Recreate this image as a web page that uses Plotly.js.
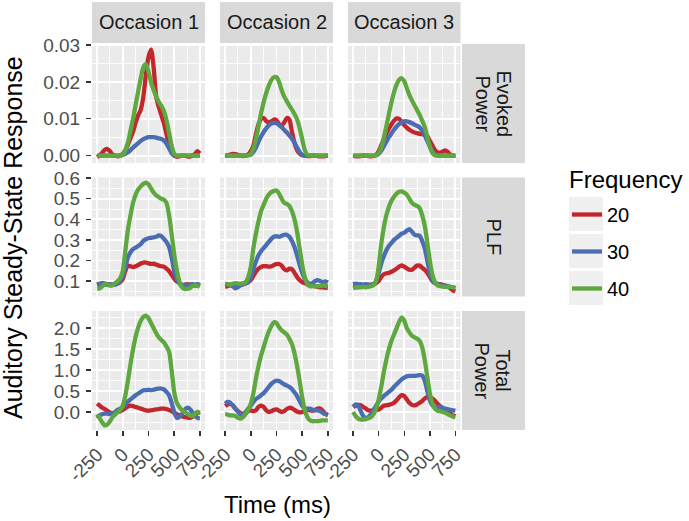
<!DOCTYPE html>
<html>
<head>
<meta charset="utf-8">
<script src="https://cdn.plot.ly/plotly-3.0.1.min.js"></script>
<style>html,body{margin:0;padding:0;background:#fff;}#chart{width:689px;height:521px;}</style>
</head>
<body>
<div id="chart"></div>
<script>
// ---------------- DATA ----------------
const time = [-250,-225,-200,-175,-150,-125,-100,-75,-50,-25,0,25,50,75,100,125,150,175,200,225,250,275,300,325,350,375,400,425,450,475,500,525,550,575,600,625,650,675,700,725,750];

const occasions = ['Occasion 1', 'Occasion 2', 'Occasion 3'];
const measures = [['Evoked', 'Power'], ['PLF'], ['Total', 'Power']];
const frequencies = ['20', '30', '40'];
const legendTitle = 'Frequency';
const yTitle = 'Auditory Steady-State Response';
const xTitle = 'Time (ms)';

const xTickVals = [-250, 0, 250, 500, 750];
const xTickText = ['-250', '0', '250', '500', '750'];

// Evoked Power
const ep1_20 = [-0.0004,0.0001,0.0008,0.0016,0.0018,0.0012,0.0003,0.0000,-0.0002,0.0000,
  0.0005,0.0015,0.0030,0.0048,0.0065,0.0090,0.0110,0.0125,0.0160,0.0220,
  0.0268,0.0288,0.0240,0.0160,0.0132,0.0110,0.0088,0.0058,0.0030,0.0010,
  0.0000,-0.0003,-0.0002,0.0000,0.0000,-0.0002,-0.0003,0.0000,0.0004,0.0012,
  0.0006];
const ep1_30 = [0,0,0,0,0,0,0,0,0,0.0001,
  0.0002,0.0005,0.0009,0.0015,0.0022,0.0028,0.0034,0.0040,0.0045,0.0048,
  0.0050,0.0050,0.0050,0.0049,0.0047,0.0045,0.0041,0.0033,0.0020,0.0007,
  0.0001,0,0,0,0,0,0,0,0,0,
  0];
const ep1_40 = [0,0,0,0,0,0,0,0,0,0,
  0.0002,0.0015,0.0036,0.0068,0.0100,0.0138,0.0175,0.0210,0.0240,0.0248,
  0.0228,0.0198,0.0178,0.0160,0.0146,0.0135,0.0121,0.0097,0.0062,0.0028,
  0.0005,0,0,0,0,0,0,0,0,0,
  0];
const ep2_20 = [0.0000,0.0001,0.0003,0.0005,0.0004,0.0002,0.0000,-0.0001,0.0000,0.0003,
  0.0012,0.0028,0.0058,0.0085,0.0100,0.0102,0.0094,0.0090,0.0093,0.0098,
  0.0096,0.0086,0.0081,0.0090,0.0102,0.0098,0.0065,0.0035,0.0015,0.0006,
  0.0001,0.0000,-0.0001,-0.0001,0.0000,0.0000,-0.0001,-0.0002,-0.0002,-0.0001,
  0.0000];
const ep2_30 = [0,0,0,0,0,0,0,0,0,0.0001,
  0.0003,0.0010,0.0022,0.0038,0.0052,0.0064,0.0074,0.0082,0.0087,0.0089,
  0.0088,0.0083,0.0077,0.0070,0.0063,0.0055,0.0046,0.0035,0.0022,0.0010,
  0.0002,0,0,0,0,0,0,0,0,0,
  0];
const ep2_40 = [0,0,0,0,0,0,0,0,0,0.0001,
  0.0005,0.0020,0.0045,0.0080,0.0115,0.0145,0.0170,0.0190,0.0205,0.0213,
  0.0213,0.0200,0.0178,0.0160,0.0148,0.0136,0.0125,0.0113,0.0098,0.0075,
  0.0045,0.0015,0.0002,0,0,0,0,0,0,0,
  0];
const ep3_20 = [-0.0001,-0.0002,-0.0002,-0.0001,0.0000,0.0000,-0.0001,-0.0002,-0.0001,0.0002,
  0.0012,0.0028,0.0045,0.0060,0.0073,0.0085,0.0095,0.0101,0.0100,0.0092,
  0.0083,0.0076,0.0070,0.0066,0.0063,0.0061,0.0059,0.0058,0.0056,0.0053,
  0.0040,0.0028,0.0015,0.0009,0.0008,0.0011,0.0014,0.0010,0.0003,0.0000,
  0.0000];
const ep3_30 = [0,0,0,0,0,0,0,0,0,0.0001,
  0.0005,0.0013,0.0025,0.0038,0.0050,0.0060,0.0070,0.0079,0.0086,0.0090,
  0.0093,0.0093,0.0091,0.0088,0.0084,0.0081,0.0077,0.0068,0.0055,0.0040,
  0.0025,0.0012,0.0004,0,0,0,0,0,0,0,
  0];
const ep3_40 = [0,0,0,0,0,0,0,0,0,0.0001,
  0.0006,0.0022,0.0048,0.0080,0.0113,0.0145,0.0172,0.0193,0.0206,0.0210,
  0.0202,0.0183,0.0165,0.0150,0.0137,0.0124,0.0111,0.0095,0.0078,0.0052,
  0.0025,0.0007,0.0001,0,0,0,0,0,0,0,
  0];

// PLF
const plf1_20 = [0.080,0.085,0.090,0.088,0.085,0.080,0.082,0.085,0.088,0.095,
  0.110,0.150,0.175,0.172,0.168,0.172,0.178,0.185,0.190,0.190,
  0.186,0.183,0.184,0.180,0.175,0.172,0.170,0.160,0.148,0.130,
  0.112,0.098,0.090,0.080,0.082,0.085,0.083,0.080,0.078,0.082,
  0.078];
const plf1_30 = [0.085,0.088,0.086,0.083,0.082,0.085,0.084,0.082,0.090,0.100,
  0.125,0.170,0.215,0.240,0.255,0.262,0.270,0.280,0.295,0.303,
  0.308,0.310,0.312,0.315,0.322,0.318,0.305,0.290,0.265,0.215,
  0.150,0.110,0.092,0.082,0.078,0.080,0.082,0.085,0.083,0.085,
  0.080];
const plf1_40 = [0.062,0.065,0.075,0.085,0.083,0.078,0.080,0.090,0.100,0.115,
  0.150,0.250,0.350,0.420,0.480,0.520,0.545,0.560,0.572,0.578,
  0.570,0.550,0.530,0.516,0.508,0.500,0.495,0.480,0.420,0.330,
  0.230,0.155,0.100,0.070,0.062,0.062,0.065,0.075,0.080,0.078,
  0.072];
const plf2_20 = [0.072,0.075,0.080,0.082,0.080,0.078,0.080,0.085,0.090,0.095,
  0.105,0.125,0.145,0.160,0.168,0.172,0.172,0.170,0.172,0.178,
  0.182,0.183,0.175,0.158,0.152,0.160,0.158,0.140,0.120,0.105,
  0.095,0.090,0.085,0.080,0.078,0.075,0.072,0.070,0.070,0.068,
  0.066];
const plf2_30 = [0.088,0.085,0.080,0.075,0.065,0.070,0.080,0.085,0.088,0.095,
  0.120,0.160,0.195,0.225,0.245,0.260,0.275,0.290,0.305,0.315,
  0.318,0.315,0.320,0.325,0.325,0.315,0.295,0.265,0.225,0.180,
  0.140,0.110,0.095,0.085,0.090,0.100,0.105,0.100,0.095,0.098,
  0.092];
const plf2_40 = [0.085,0.085,0.082,0.088,0.090,0.088,0.088,0.090,0.095,0.120,
  0.170,0.260,0.330,0.390,0.440,0.470,0.500,0.520,0.532,0.538,
  0.540,0.525,0.500,0.480,0.475,0.465,0.440,0.400,0.340,0.260,
  0.180,0.120,0.085,0.075,0.075,0.074,0.075,0.076,0.078,0.077,
  0.075];
const plf3_20 = [0.080,0.078,0.080,0.082,0.080,0.078,0.080,0.082,0.085,0.090,
  0.100,0.120,0.133,0.138,0.140,0.145,0.152,0.160,0.170,0.176,
  0.170,0.162,0.155,0.155,0.165,0.175,0.175,0.165,0.155,0.140,
  0.120,0.100,0.090,0.087,0.085,0.082,0.078,0.072,0.065,0.055,
  0.050];
const plf3_30 = [0.085,0.088,0.085,0.085,0.083,0.085,0.083,0.082,0.085,0.100,
  0.140,0.185,0.220,0.250,0.270,0.285,0.300,0.310,0.320,0.330,
  0.335,0.345,0.352,0.340,0.325,0.322,0.320,0.295,0.260,0.200,
  0.140,0.105,0.090,0.085,0.082,0.080,0.078,0.075,0.072,0.068,
  0.065];
const plf3_40 = [0.065,0.068,0.070,0.070,0.072,0.070,0.072,0.075,0.080,0.100,
  0.170,0.280,0.360,0.420,0.460,0.490,0.510,0.525,0.534,0.535,
  0.530,0.520,0.500,0.480,0.470,0.465,0.455,0.420,0.370,0.290,
  0.200,0.130,0.095,0.080,0.075,0.073,0.072,0.072,0.072,0.070,
  0.068];

// Total Power
const tp1_20 = [0.20,0.15,0.10,0.07,0.03,-0.01,-0.03,-0.03,0.00,0.02,
  0.05,0.09,0.13,0.15,0.14,0.12,0.10,0.08,0.06,0.04,
  0.03,0.04,0.05,0.06,0.07,0.08,0.08,0.07,0.05,0.02,
  -0.02,-0.05,-0.08,-0.10,-0.12,-0.13,-0.14,-0.12,-0.08,-0.03,
  0.00];
const tp1_30 = [-0.15,-0.08,-0.05,-0.04,-0.04,-0.05,-0.03,0.00,0.05,0.08,
  0.12,0.18,0.25,0.30,0.35,0.40,0.44,0.48,0.52,0.52,
  0.53,0.52,0.53,0.55,0.56,0.56,0.54,0.48,0.40,0.22,
  0.00,-0.14,-0.12,-0.05,0.05,0.10,0.08,0.00,-0.08,-0.14,
  -0.15];
const tp1_40 = [-0.05,-0.15,-0.25,-0.32,-0.30,-0.22,-0.12,-0.06,0.00,0.05,
  0.15,0.40,0.75,1.15,1.50,1.80,2.02,2.18,2.27,2.30,
  2.24,2.12,2.00,1.88,1.78,1.72,1.66,1.56,1.44,1.00,
  0.48,0.22,0.12,0.05,0.00,-0.03,-0.08,-0.10,-0.05,0.00,
  -0.02];
const tp2_20 = [0.14,0.18,0.20,0.16,0.08,0.02,-0.03,-0.04,-0.02,0.02,
  0.04,0.02,0.04,0.12,0.15,0.12,0.04,0.00,0.02,0.05,
  0.06,0.03,0.00,0.02,0.07,0.10,0.09,0.05,0.01,-0.01,
  0.00,0.03,0.05,0.04,0.03,0.05,0.08,0.08,0.03,-0.04,
  -0.08];
const tp2_30 = [0.20,0.24,0.22,0.15,0.08,0.00,-0.06,-0.08,0.00,0.08,
  0.15,0.24,0.31,0.35,0.40,0.45,0.52,0.60,0.67,0.72,
  0.75,0.74,0.70,0.66,0.63,0.60,0.55,0.47,0.38,0.26,
  0.15,0.08,0.08,0.08,0.06,0.04,0.04,0.02,-0.02,-0.05,
  -0.06];
const tp2_40 = [-0.05,-0.06,-0.08,-0.08,-0.10,-0.14,-0.16,-0.12,-0.05,0.05,
  0.20,0.45,0.80,1.10,1.35,1.55,1.75,1.92,2.05,2.14,
  2.12,2.02,1.95,1.90,1.85,1.75,1.62,1.40,1.10,0.75,
  0.35,0.05,-0.12,-0.20,-0.22,-0.22,-0.22,-0.21,-0.20,-0.20,
  -0.20];
const tp3_20 = [0.12,0.15,0.17,0.16,0.12,0.08,0.04,0.03,0.04,0.05,
  0.06,0.10,0.15,0.16,0.17,0.19,0.22,0.28,0.35,0.40,
  0.38,0.30,0.22,0.17,0.16,0.18,0.22,0.26,0.32,0.36,
  0.35,0.32,0.27,0.20,0.14,0.09,0.04,0.00,-0.04,-0.08,
  -0.10];
const tp3_30 = [0.12,0.18,0.15,0.02,-0.10,-0.14,-0.12,-0.05,0.05,0.15,
  0.25,0.32,0.38,0.43,0.48,0.53,0.60,0.66,0.72,0.78,
  0.82,0.85,0.86,0.86,0.86,0.87,0.88,0.87,0.75,0.50,
  0.28,0.16,0.12,0.12,0.12,0.10,0.08,0.07,0.05,0.04,
  0.03];
const tp3_40 = [0.00,-0.10,-0.16,-0.18,-0.18,-0.17,-0.15,-0.12,-0.05,0.08,
  0.30,0.60,0.95,1.25,1.50,1.70,1.85,2.00,2.15,2.25,
  2.18,2.00,1.90,1.82,1.78,1.75,1.70,1.55,1.25,0.85,
  0.45,0.20,0.08,0.03,0.02,0.00,-0.02,-0.05,-0.08,-0.11,
  -0.12];

// ---------------- LAYOUT / STYLE ----------------
const panelData = [
  [[ep1_20, ep1_30, ep1_40], [ep2_20, ep2_30, ep2_40], [ep3_20, ep3_30, ep3_40]],
  [[plf1_20, plf1_30, plf1_40], [plf2_20, plf2_30, plf2_40], [plf3_20, plf3_30, plf3_40]],
  [[tp1_20, tp1_30, tp1_40], [tp2_20, tp2_30, tp2_40], [tp3_20, tp3_30, tp3_40]]
];

const W = 689, H = 521;
const colors = ['#C1272D', '#4B6EB3', '#5EA83F'];
const FONT = 'Liberation Sans, Arial, Helvetica, sans-serif';
const colPx = [[92, 205], [220, 333], [348, 460.5]];
const rowPx = [[44, 163], [177.5, 296.5], [311, 430]];
const yRanges = [[-0.002, 0.0303], [0.025, 0.603], [-0.43, 2.41]];
const yTicks = [{tick0: 0, dtick: 0.01, minor: 0.005, fmt: '.2f'},
                {tick0: 0.1, dtick: 0.1, minor: 0.05, fmt: '.1f'},
                {tick0: 0, dtick: 0.5, minor: 0.25, fmt: '.1f'}];
const fx = p => p / W;
const fy = p => 1 - p / H;

const traces = [];
const layout = {
  width: W, height: H,
  margin: {l: 0, r: 0, t: 0, b: 0},
  paper_bgcolor: '#ffffff',
  plot_bgcolor: '#EBEBEB',
  font: {family: FONT, color: '#000'},
  showlegend: true,
  legend: {
    x: fx(567), y: fy(195), xanchor: 'left', yanchor: 'top',
    bgcolor: 'rgba(0,0,0,0)', borderwidth: 0,
    font: {size: 20, color: '#000', family: FONT},
    tracegroupgap: 8, itemwidth: 30
  },
  shapes: [], annotations: []
};

for (let r = 0; r < 3; r++) {
  for (let c = 0; c < 3; c++) {
    const k = r * 3 + c + 1;
    const sfx = k === 1 ? '' : String(k);
    const bottom = r === 2, left = c === 0;
    layout['xaxis' + sfx] = {
      domain: [fx(colPx[c][0]), fx(colPx[c][1])],
      anchor: 'y' + sfx,
      range: [-300, 800],
      tickmode: 'array', tickvals: xTickVals, ticktext: xTickText,
      showgrid: true, gridcolor: '#ffffff', gridwidth: 1.8,
      minor: {tickmode: 'linear', tick0: -250, dtick: 125, showgrid: true, gridcolor: '#ffffff', gridwidth: 0.9, ticks: ''},
      zeroline: false, showline: false,
      ticks: bottom ? 'outside' : '', ticklen: 5, tickwidth: 1.4, tickcolor: '#333333',
      showticklabels: bottom, tickangle: -45,
      tickfont: {size: 19, color: '#4D4D4D', family: FONT},
      fixedrange: true
    };
    const yt = yTicks[r];
    layout['yaxis' + sfx] = {
      domain: [fy(rowPx[r][1]), fy(rowPx[r][0])],
      anchor: 'x' + sfx,
      range: yRanges[r],
      tickmode: 'linear', tick0: yt.tick0, dtick: yt.dtick, tickformat: yt.fmt,
      showgrid: true, gridcolor: '#ffffff', gridwidth: 1.8,
      minor: {tickmode: 'linear', tick0: yt.tick0, dtick: yt.minor, showgrid: true, gridcolor: '#ffffff', gridwidth: 0.9, ticks: ''},
      zeroline: false, showline: false,
      ticks: left ? 'outside' : '', ticklen: 5, tickwidth: 1.4, tickcolor: '#333333',
      ticklabelstandoff: 2,
      showticklabels: left,
      tickfont: {size: 19, color: '#4D4D4D', family: FONT},
      fixedrange: true
    };
    for (let f = 0; f < 3; f++) {
      traces.push({
        type: 'scatter', mode: 'lines',
        x: time, y: panelData[r][c][f],
        xaxis: 'x' + sfx, yaxis: 'y' + sfx,
        name: frequencies[f], legendgroup: 'f' + frequencies[f],
        showlegend: k === 1,
        line: {color: colors[f], width: 4.3, shape: 'spline', smoothing: 0.7},
        hoverinfo: 'skip'
      });
    }
  }
}

// column strips
for (let c = 0; c < 3; c++) {
  layout.shapes.push({type: 'rect', xref: 'paper', yref: 'paper', layer: 'below',
    x0: fx(colPx[c][0]), x1: fx(colPx[c][1]), y0: fy(43), y1: fy(2),
    fillcolor: '#D9D9D9', line: {width: 0}});
  layout.annotations.push({xref: 'paper', yref: 'paper', x: fx((colPx[c][0] + colPx[c][1]) / 2), y: fy(22.5),
    xanchor: 'center', yanchor: 'middle', showarrow: false, text: occasions[c],
    font: {size: 20, color: '#1A1A1A', family: FONT}});
}
// row strips
for (let r = 0; r < 3; r++) {
  layout.shapes.push({type: 'rect', xref: 'paper', yref: 'paper', layer: 'below',
    x0: fx(462), x1: fx(525), y0: fy(rowPx[r][1]), y1: fy(rowPx[r][0]),
    fillcolor: '#D9D9D9', line: {width: 0}});
  const lines = measures[r];
  const yc = fy((rowPx[r][0] + rowPx[r][1]) / 2);
  const xs = lines.length === 1 ? [493.5] : [503, 482];
  lines.forEach((t, i) => {
    layout.annotations.push({xref: 'paper', yref: 'paper', x: fx(xs[i]), y: yc, xanchor: 'center', yanchor: 'middle',
      showarrow: false, text: t, textangle: 90, font: {size: 20, color: '#1A1A1A', family: FONT}});
  });
}
// legend key backgrounds
const keyTops = [197, 234, 271];
for (let i = 0; i < 3; i++) {
  layout.shapes.push({type: 'rect', xref: 'paper', yref: 'paper', layer: 'below',
    x0: fx(569), x1: fx(603), y0: fy(keyTops[i] + 34), y1: fy(keyTops[i]),
    fillcolor: '#F0F0F0', line: {width: 0}});
}
// legend title
layout.annotations.push({xref: 'paper', yref: 'paper', x: fx(567), y: fy(179), xanchor: 'left', yanchor: 'middle',
  showarrow: false, text: legendTitle, font: {size: 24, color: '#000', family: FONT}});
// axis titles
layout.annotations.push({xref: 'paper', yref: 'paper', x: fx(12.5), y: fy(237.5), xanchor: 'center', yanchor: 'middle',
  showarrow: false, text: yTitle, textangle: -90, font: {size: 25, color: '#000', family: FONT}});
layout.annotations.push({xref: 'paper', yref: 'paper', x: fx(277), y: fy(504), xanchor: 'center', yanchor: 'middle',
  showarrow: false, text: xTitle, font: {size: 24, color: '#000', family: FONT}});

Plotly.newPlot('chart', traces, layout, {displayModeBar: false, staticPlot: true});
</script>
</body>
</html>
